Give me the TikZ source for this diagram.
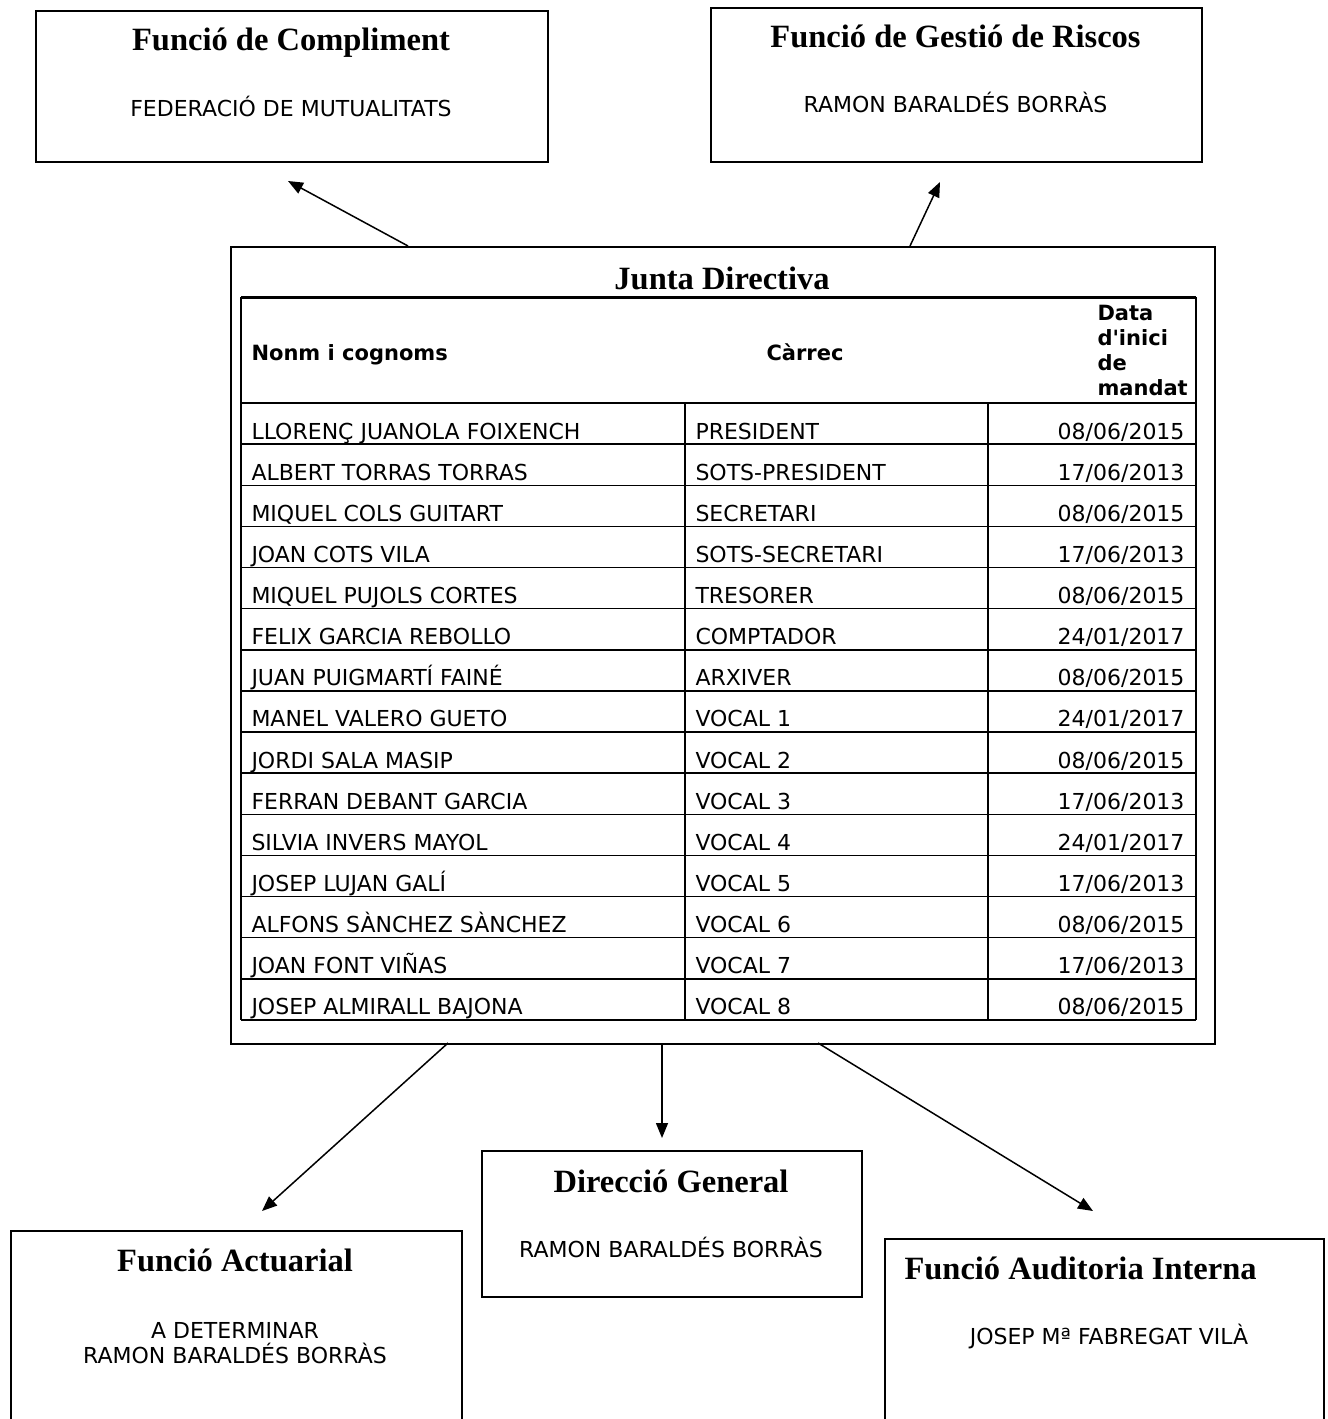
\documentclass[tikz,border=0pt]{standalone}
\usepackage{fontspec}
\setmainfont{Liberation Serif}
\setsansfont[Ligatures=TeXOff]{DejaVu Sans}
\usetikzlibrary{arrows.meta}

\tikzset{
  orgbox/.style={draw, line width=0.8pt, inner sep=0pt, anchor=north west},
  boxtitle/.style={font=\rmfamily\bfseries\fontsize{13}{15}\selectfont, inner sep=0pt, anchor=base},
  boxname/.style={font=\sffamily\fontsize{8.8}{10}\selectfont, inner sep=0pt, anchor=base},
  cell/.style={font=\sffamily\fontsize{8.8}{10}\selectfont, inner sep=0pt},
  headcell/.style={font=\sffamily\bfseries\fontsize{8.4}{10}\selectfont, inner sep=0pt},
  tableline/.style={line width=0.6pt},
  orgarrow/.style={-{Triangle[length=6pt,width=4.8pt]}, line width=0.6pt},
}

\begin{document}
\begin{tikzpicture}[x=0.4pt, y=-0.4pt]
\clip (0,0) rectangle (1327,1419);

% Top boxes
\node[orgbox, minimum width=204.8pt, minimum height=60.4pt] (compliment) at (35,10) {};
\node[boxtitle] (complimentTitle) at (291,51) {Funció de Compliment};
\node[boxname] (complimentName) at (291,116) {FEDERACIÓ DE MUTUALITATS};

\node[orgbox, minimum width=196.4pt, minimum height=61.6pt] (riscos) at (710,7) {};
\node[boxtitle] (riscosTitle) at (955.5,48) {Funció de Gestió de Riscos};
\node[boxname] (riscosName) at (955.5,113) {RAMON BARALDÉS BORRÀS};

% Junta Directiva
\node[orgbox, minimum width=393.6pt, minimum height=318.8pt] (junta) at (230,246) {};
\node[boxtitle] (juntaTitle) at (722,289) {Junta Directiva};
\draw[line width=1.2pt] (241,297) -- (1196,297);

% Header row
\node[headcell, anchor=base west] (headNom) at (251,360) {Nonm i cognoms};
\node[headcell, anchor=base] (headCarrec) at (805,360) {Càrrec};
\node[headcell, anchor=west, align=left] (headData) at (1097,350) {Data\\d'inici\\de\\mandat};

% Table grid
\draw[tableline] (241,297) -- (241,1020);
\draw[tableline] (1196,297) -- (1196,1020);
\foreach \k in {0,...,15}
    \draw[tableline] (241,{403+\k*41.13}) -- (1196,{403+\k*41.13});
\draw[tableline] (685,403) -- (685,1020);
\draw[tableline] (988,403) -- (988,1020);

% Members
\foreach \nom/\carrec/\data [count=\i from 0] in {
    LLORENÇ JUANOLA FOIXENCH/PRESIDENT/{08/06/2015},
    ALBERT TORRAS TORRAS/SOTS-PRESIDENT/{17/06/2013},
    MIQUEL COLS GUITART/SECRETARI/{08/06/2015},
    JOAN COTS VILA/SOTS-SECRETARI/{17/06/2013},
    MIQUEL PUJOLS CORTES/TRESORER/{08/06/2015},
    FELIX GARCIA REBOLLO/COMPTADOR/{24/01/2017},
    JUAN PUIGMARTÍ FAINÉ/ARXIVER/{08/06/2015},
    MANEL VALERO GUETO/VOCAL 1/{24/01/2017},
    JORDI SALA MASIP/VOCAL 2/{08/06/2015},
    FERRAN DEBANT GARCIA/VOCAL 3/{17/06/2013},
    SILVIA INVERS MAYOL/VOCAL 4/{24/01/2017},
    JOSEP LUJAN GALÍ/VOCAL 5/{17/06/2013},
    ALFONS SÀNCHEZ SÀNCHEZ/VOCAL 6/{08/06/2015},
    JOAN FONT VIÑAS/VOCAL 7/{17/06/2013},
    JOSEP ALMIRALL BAJONA/VOCAL 8/{08/06/2015}}
{
    \node[cell, anchor=base west] (nom\i) at (251,{439+\i*41.13}) {\nom};
    \node[cell, anchor=base west] (carrec\i) at (695,{439+\i*41.13}) {\carrec};
    \node[cell, anchor=base east] (data\i) at (1185,{439+\i*41.13}) {\data};
}

% Bottom boxes
\node[orgbox, minimum width=152pt, minimum height=58.4pt] (direccio) at (481,1150) {};
\node[boxtitle] (direccioTitle) at (671,1192) {Direcció General};
\node[boxname] (direccioName) at (671,1257) {RAMON BARALDÉS BORRÀS};

\node[orgbox, minimum width=180.4pt, minimum height=84pt] (actuarial) at (10,1230) {};
\node[boxtitle] (actuarialTitle) at (235,1271) {Funció Actuarial};
\node[boxname] (actuarialName) at (235,1338) {A DETERMINAR};
\node[boxname] (actuarialName2) at (235,1363) {RAMON BARALDÉS BORRÀS};

\node[orgbox, minimum width=175.6pt, minimum height=84pt] (auditoria) at (884,1238) {};
\node[boxtitle, anchor=base west] (auditoriaTitle) at (904,1279) {Funció Auditoria Interna};
\node[boxname] (auditoriaName) at (1109,1344) {JOSEP Mª FABREGAT VILÀ};

% Arrows
\coordinate (jdTopL) at (408,246);
\coordinate (jdTopR) at (910,246);
\coordinate (jdBotL) at (448,1043);
\coordinate (jdBotC) at (662,1043);
\coordinate (jdBotR) at (818,1043);
\coordinate (complimentTip) at (288,181);
\coordinate (riscosTip) at (940,182);
\coordinate (actuarialTip) at (262,1211);
\coordinate (direccioTip) at (662,1138);
\coordinate (auditoriaTip) at (1093,1211);

\draw[orgarrow] (jdTopL) -- (complimentTip);
\draw[orgarrow] (jdTopR) -- (riscosTip);
\draw[orgarrow] (jdBotL) -- (actuarialTip);
\draw[orgarrow] (jdBotC) -- (direccioTip);
\draw[orgarrow] (jdBotR) -- (auditoriaTip);

\end{tikzpicture}
\end{document}
